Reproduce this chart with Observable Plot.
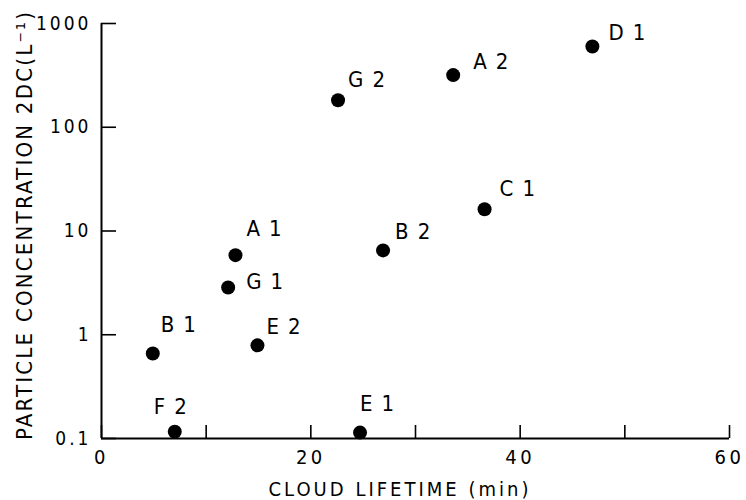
<!DOCTYPE html>
<html>
<head>
<meta charset="utf-8">
<script src="https://cdn.jsdelivr.net/npm/d3@7"></script>
<script src="https://cdn.jsdelivr.net/npm/@observablehq/plot@0.6"></script>
<style>
  html, body { margin: 0; padding: 0; background: #fff; }
  #chart svg { display: block; }
</style>
</head>
<body>
<div id="chart"></div>
<script>
// ---- data ----
const labels = ["D1", "A2", "G2", "C1", "B2", "A1", "G1", "B1", "E2", "F2", "E1"];
const lifetime = [46.9, 33.6, 22.6, 36.6, 26.9, 12.8, 12.1, 4.9, 14.9, 7.0, 24.7];
const concentration = [600, 318, 182, 16.2, 6.5, 5.85, 2.85, 0.66, 0.79, 0.116, 0.114];

const xTicks = [0, 10, 20, 30, 40, 50, 60];
const xTickLabels = ["0", "", "20", "", "40", "", "60"];
const yTicks = [0.1, 1, 10, 100, 1000];
const yTickLabels = ["0.1", "1", "10", "100", "1000"];

const xTitle = "CLOUD LIFETIME (min)";
const yTitle = "PARTICLE CONCENTRATION 2DC(L\u207B\u00B9)";

// ---- label placement (style, not data) ----
const labelOffset = {
  D1: [16, -14], A2: [20, -13], G2: [10, -20], C1: [15, -20], B2: [12, -18],
  A1: [11, -26], G1: [18, -6], B1: [8, -29], E2: [9, -18], F2: [-21, -25], E1: [0, -29]
};

const points = labels.map((l, i) => ({label: l, x: lifetime[i], y: concentration[i]}));

const font = "'DejaVu Sans Condensed', 'DejaVu Sans', sans-serif";

const labelMarks = points.map(p => Plot.text([p], {
  x: "x", y: "y", text: "label",
  dx: labelOffset[p.label][0], dy: labelOffset[p.label][1],
  textAnchor: "start", lineAnchor: "middle",
  fontSize: 22, fill: "#000"
}));

const chart = Plot.plot({
  width: 746,
  height: 500,
  marginLeft: 101,
  marginRight: 17,
  marginTop: 23,
  marginBottom: 62,
  style: {fontFamily: font, background: "#fff", color: "#000", overflow: "visible"},
  x: {domain: [0, 60]},
  y: {type: "log", domain: [0.1, 1000]},
  marks: [
    Plot.axisX(xTicks, {
      tickSize: -13, tickPadding: 24, strokeWidth: 1.6,
      tickFormat: d => xTickLabels[xTicks.indexOf(d)],
      fontSize: 20, label: null
    }),
    Plot.axisY(yTicks, {
      tickSize: -15, tickPadding: 25, strokeWidth: 1.6,
      tickFormat: d => yTickLabels[yTicks.indexOf(d)],
      fontSize: 19, label: null
    }),
    Plot.ruleX([0], {stroke: "#000", strokeWidth: 2}),
    Plot.ruleY([0.1], {stroke: "#000", strokeWidth: 2}),
    Plot.dot(points, {x: "x", y: "y", r: 7, fill: "#000", stroke: "none"}),
    ...labelMarks,
    Plot.text([xTitle], {frameAnchor: "bottom", textAnchor: "middle", lineAnchor: "middle", dx: -17, dy: 51, fontSize: 20, fill: "#000"}),
    Plot.text([yTitle], {frameAnchor: "left", textAnchor: "middle", lineAnchor: "middle", rotate: -90, dx: -77, dy: -5, fontSize: 22, fill: "#000"})
  ]
});

const svg = d3.select(chart);
const textsMatching = arr => svg.selectAll("text").filter(function() { return arr.includes(this.textContent); });
textsMatching(labels).style("letter-spacing", "9px");
textsMatching([xTitle]).attr("textLength", 260).attr("lengthAdjust", "spacing");
textsMatching([yTitle]).attr("textLength", 428).attr("lengthAdjust", "spacing");
svg.selectAll('g[aria-label="x-axis tick label"] text').style("letter-spacing", "3.5px");
svg.selectAll('g[aria-label="y-axis tick label"] text').style("letter-spacing", "3px");

document.getElementById("chart").appendChild(chart);
</script>
</body>
</html>
